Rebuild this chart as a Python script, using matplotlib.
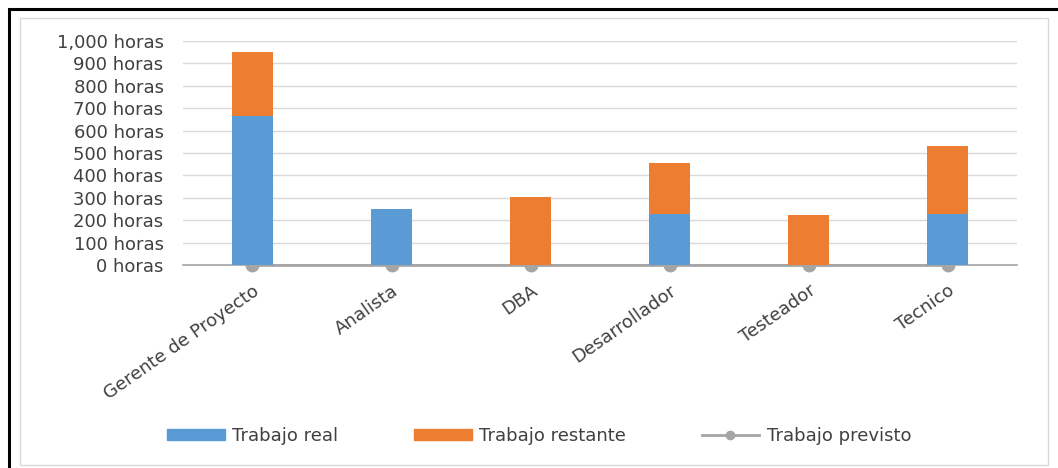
import matplotlib.pyplot as plt
from matplotlib.lines import Line2D
from matplotlib.patches import Rectangle
from matplotlib.ticker import FuncFormatter

# Horas por rol del proyecto
roles = ["Gerente de Proyecto", "Analista", "DBA", "Desarrollador", "Testeador", "Tecnico"]
trabajo_real = [665, 250, 0, 228, 0, 228]
trabajo_restante = [285, 0, 305, 227, 225, 303]
trabajo_previsto = [0, 0, 0, 0, 0, 0]

azul = "#5B9BD5"
naranja = "#ED7D31"
gris = "#A5A5A5"
texto = "#404040"

plt.rcParams['font.family'] = ['DejaVu Sans']

fig = plt.figure(figsize=(10.58, 4.68), dpi=100)

# marcos exteriores
fig.add_artist(Rectangle((9 / 1058, -0.1), 1.2, 1 - 9 / 468 + 0.1, transform=fig.transFigure,
                         fill=False, edgecolor="black", linewidth=2.2))
fig.add_artist(Rectangle((20 / 1058, 1 - 465 / 468), 1028 / 1058, 447 / 468,
                         transform=fig.transFigure, fill=False, edgecolor="#D9D9D9", linewidth=1))

ax = fig.add_axes([183 / 1058, 1 - 265 / 468, 834 / 1058, 224 / 468])

x = range(len(roles))
ax.bar(x, trabajo_real, width=0.3, color=azul, zorder=3, label="Trabajo real")
ax.bar(x, trabajo_restante, width=0.3, bottom=trabajo_real, color=naranja, zorder=3,
       label="Trabajo restante")
ax.plot(x, trabajo_previsto, color=gris, linewidth=2, marker="o", markersize=9,
        zorder=2, clip_on=False, label="Trabajo previsto")

ax.set_xlim(-0.5, len(roles) - 0.5)
ax.set_ylim(0, 1000)
ax.set_yticks(range(0, 1001, 100))
ax.yaxis.set_major_formatter(FuncFormatter(lambda v, p: f"{int(v):,} horas"))
ax.grid(axis="y", color="#D9D9D9", linewidth=1, zorder=0)
ax.set_axisbelow(True)

for s in ["top", "right", "left"]:
    ax.spines[s].set_visible(False)
ax.spines["bottom"].set_color("#A6A6A6")
ax.spines["bottom"].set_linewidth(1.2)
ax.tick_params(axis="both", length=0, colors=texto, labelsize=13)
ax.tick_params(axis="y", pad=14)

ax.set_xticks(list(x))
ax.set_xticklabels(roles, rotation=35, ha="right", va="top", rotation_mode="anchor")
ax.tick_params(axis="x", pad=12)

handles = [
    Rectangle((0, 0), 1, 1, color=azul),
    Rectangle((0, 0), 1, 1, color=naranja),
    Line2D([0], [0], color=gris, linewidth=2, marker="o", markersize=6),
]
fig.legend(handles, ["Trabajo real", "Trabajo restante", "Trabajo previsto"],
           loc="center", bbox_to_anchor=(539 / 1058, 1 - 436 / 468), ncol=3,
           frameon=False, fontsize=13, labelcolor=texto, handlelength=3.2,
           handleheight=0.55, handletextpad=0.4, columnspacing=4.2)

fig.savefig("out.png", dpi=100, facecolor="white")
